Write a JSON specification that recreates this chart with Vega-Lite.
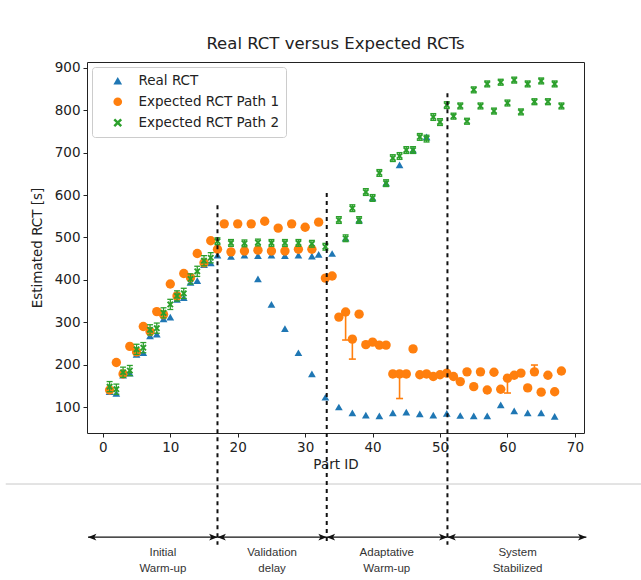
{
  "$schema": "https://vega.github.io/schema/vega-lite/v6.json",
  "width": 497,
  "height": 371,
  "autosize": {"type": "none"},
  "padding": {"left": 87, "top": 62, "right": 57, "bottom": 147},
  "background": "white",
  "config": {
    "font": "DejaVu Sans",
    "view": {"stroke": "#222222", "strokeWidth": 1},
    "legend": {
      "orient": "top-left",
      "offset": 5,
      "title": null,
      "fillColor": "rgba(255,255,255,0.85)",
      "strokeColor": "#cccccc",
      "cornerRadius": 3,
      "padding": 7,
      "labelFont": "DejaVu Sans",
      "labelFontSize": 13.5,
      "labelColor": "#222222",
      "symbolSize": 75,
      "symbolOffset": 12,
      "labelOffset": 14,
      "rowPadding": 6,
      "symbolStrokeWidth": 0
    }
  },
  "title": {
    "text": "Real RCT versus Expected RCTs",
    "font": "DejaVu Sans",
    "fontSize": 16.5,
    "fontWeight": "normal",
    "color": "#222222",
    "offset": 8
  },
  "datasets": {
    "rct": [
      {"part": 1, "series": "Real RCT", "rct": 136},
      {"part": 2, "series": "Real RCT", "rct": 132},
      {"part": 3, "series": "Real RCT", "rct": 175},
      {"part": 4, "series": "Real RCT", "rct": 180},
      {"part": 5, "series": "Real RCT", "rct": 224},
      {"part": 6, "series": "Real RCT", "rct": 228},
      {"part": 7, "series": "Real RCT", "rct": 268},
      {"part": 8, "series": "Real RCT", "rct": 272},
      {"part": 9, "series": "Real RCT", "rct": 308},
      {"part": 10, "series": "Real RCT", "rct": 312},
      {"part": 11, "series": "Real RCT", "rct": 354},
      {"part": 12, "series": "Real RCT", "rct": 358},
      {"part": 13, "series": "Real RCT", "rct": 394},
      {"part": 14, "series": "Real RCT", "rct": 398},
      {"part": 15, "series": "Real RCT", "rct": 436},
      {"part": 16, "series": "Real RCT", "rct": 440},
      {"part": 17, "series": "Real RCT", "rct": 458},
      {"part": 19, "series": "Real RCT", "rct": 455},
      {"part": 21, "series": "Real RCT", "rct": 458},
      {"part": 23, "series": "Real RCT", "rct": 457},
      {"part": 25, "series": "Real RCT", "rct": 458},
      {"part": 27, "series": "Real RCT", "rct": 457},
      {"part": 29, "series": "Real RCT", "rct": 458},
      {"part": 31, "series": "Real RCT", "rct": 456},
      {"part": 32, "series": "Real RCT", "rct": 460},
      {"part": 34, "series": "Real RCT", "rct": 462},
      {"part": 23, "series": "Real RCT", "rct": 402},
      {"part": 25, "series": "Real RCT", "rct": 342},
      {"part": 27, "series": "Real RCT", "rct": 285},
      {"part": 29, "series": "Real RCT", "rct": 228},
      {"part": 31, "series": "Real RCT", "rct": 178},
      {"part": 33, "series": "Real RCT", "rct": 123},
      {"part": 35, "series": "Real RCT", "rct": 100},
      {"part": 37, "series": "Real RCT", "rct": 86},
      {"part": 39, "series": "Real RCT", "rct": 81},
      {"part": 41, "series": "Real RCT", "rct": 79},
      {"part": 43, "series": "Real RCT", "rct": 86},
      {"part": 45, "series": "Real RCT", "rct": 88},
      {"part": 47, "series": "Real RCT", "rct": 84},
      {"part": 49, "series": "Real RCT", "rct": 81},
      {"part": 51, "series": "Real RCT", "rct": 85},
      {"part": 36, "series": "Real RCT", "rct": 498},
      {"part": 38, "series": "Real RCT", "rct": 541},
      {"part": 40, "series": "Real RCT", "rct": 593},
      {"part": 42, "series": "Real RCT", "rct": 628},
      {"part": 44, "series": "Real RCT", "rct": 671},
      {"part": 46, "series": "Real RCT", "rct": 706},
      {"part": 48, "series": "Real RCT", "rct": 737},
      {"part": 53, "series": "Real RCT", "rct": 80},
      {"part": 55, "series": "Real RCT", "rct": 79},
      {"part": 57, "series": "Real RCT", "rct": 79},
      {"part": 59, "series": "Real RCT", "rct": 105},
      {"part": 61, "series": "Real RCT", "rct": 91},
      {"part": 63, "series": "Real RCT", "rct": 86},
      {"part": 65, "series": "Real RCT", "rct": 86},
      {"part": 67, "series": "Real RCT", "rct": 78},

      {"part": 1, "series": "Expected RCT Path 1", "rct": 140},
      {"part": 2, "series": "Expected RCT Path 1", "rct": 205},
      {"part": 3, "series": "Expected RCT Path 1", "rct": 178},
      {"part": 4, "series": "Expected RCT Path 1", "rct": 243},
      {"part": 5, "series": "Expected RCT Path 1", "rct": 230},
      {"part": 6, "series": "Expected RCT Path 1", "rct": 290},
      {"part": 7, "series": "Expected RCT Path 1", "rct": 278},
      {"part": 8, "series": "Expected RCT Path 1", "rct": 325},
      {"part": 9, "series": "Expected RCT Path 1", "rct": 318},
      {"part": 10, "series": "Expected RCT Path 1", "rct": 390},
      {"part": 11, "series": "Expected RCT Path 1", "rct": 362},
      {"part": 12, "series": "Expected RCT Path 1", "rct": 415},
      {"part": 13, "series": "Expected RCT Path 1", "rct": 405},
      {"part": 14, "series": "Expected RCT Path 1", "rct": 462},
      {"part": 15, "series": "Expected RCT Path 1", "rct": 440},
      {"part": 16, "series": "Expected RCT Path 1", "rct": 492},
      {"part": 17, "series": "Expected RCT Path 1", "rct": 472},
      {"part": 18, "series": "Expected RCT Path 1", "rct": 532},
      {"part": 19, "series": "Expected RCT Path 1", "rct": 466},
      {"part": 20, "series": "Expected RCT Path 1", "rct": 532},
      {"part": 21, "series": "Expected RCT Path 1", "rct": 468},
      {"part": 22, "series": "Expected RCT Path 1", "rct": 532},
      {"part": 23, "series": "Expected RCT Path 1", "rct": 470},
      {"part": 24, "series": "Expected RCT Path 1", "rct": 538},
      {"part": 25, "series": "Expected RCT Path 1", "rct": 468},
      {"part": 26, "series": "Expected RCT Path 1", "rct": 522},
      {"part": 27, "series": "Expected RCT Path 1", "rct": 468},
      {"part": 28, "series": "Expected RCT Path 1", "rct": 532},
      {"part": 29, "series": "Expected RCT Path 1", "rct": 472},
      {"part": 30, "series": "Expected RCT Path 1", "rct": 524},
      {"part": 31, "series": "Expected RCT Path 1", "rct": 472},
      {"part": 32, "series": "Expected RCT Path 1", "rct": 536},
      {"part": 33, "series": "Expected RCT Path 1", "rct": 404},
      {"part": 34, "series": "Expected RCT Path 1", "rct": 409},
      {"part": 35, "series": "Expected RCT Path 1", "rct": 312},
      {"part": 36, "series": "Expected RCT Path 1", "rct": 324, "lo": 258, "hi": 324},
      {"part": 37, "series": "Expected RCT Path 1", "rct": 260, "lo": 213, "hi": 260},
      {"part": 38, "series": "Expected RCT Path 1", "rct": 319},
      {"part": 39, "series": "Expected RCT Path 1", "rct": 247},
      {"part": 40, "series": "Expected RCT Path 1", "rct": 253},
      {"part": 41, "series": "Expected RCT Path 1", "rct": 246},
      {"part": 42, "series": "Expected RCT Path 1", "rct": 246},
      {"part": 43, "series": "Expected RCT Path 1", "rct": 178},
      {"part": 44, "series": "Expected RCT Path 1", "rct": 178, "lo": 120, "hi": 178},
      {"part": 45, "series": "Expected RCT Path 1", "rct": 178},
      {"part": 46, "series": "Expected RCT Path 1", "rct": 237},
      {"part": 47, "series": "Expected RCT Path 1", "rct": 176},
      {"part": 48, "series": "Expected RCT Path 1", "rct": 178},
      {"part": 49, "series": "Expected RCT Path 1", "rct": 172},
      {"part": 50, "series": "Expected RCT Path 1", "rct": 176},
      {"part": 51, "series": "Expected RCT Path 1", "rct": 180},
      {"part": 52, "series": "Expected RCT Path 1", "rct": 172},
      {"part": 53, "series": "Expected RCT Path 1", "rct": 160},
      {"part": 54, "series": "Expected RCT Path 1", "rct": 183},
      {"part": 55, "series": "Expected RCT Path 1", "rct": 148},
      {"part": 56, "series": "Expected RCT Path 1", "rct": 183},
      {"part": 57, "series": "Expected RCT Path 1", "rct": 140},
      {"part": 58, "series": "Expected RCT Path 1", "rct": 182},
      {"part": 59, "series": "Expected RCT Path 1", "rct": 142},
      {"part": 60, "series": "Expected RCT Path 1", "rct": 168, "lo": 133, "hi": 168},
      {"part": 61, "series": "Expected RCT Path 1", "rct": 175},
      {"part": 62, "series": "Expected RCT Path 1", "rct": 180},
      {"part": 63, "series": "Expected RCT Path 1", "rct": 145},
      {"part": 64, "series": "Expected RCT Path 1", "rct": 183, "lo": 183, "hi": 199},
      {"part": 65, "series": "Expected RCT Path 1", "rct": 135},
      {"part": 66, "series": "Expected RCT Path 1", "rct": 175},
      {"part": 67, "series": "Expected RCT Path 1", "rct": 136},
      {"part": 68, "series": "Expected RCT Path 1", "rct": 185},

      {"part": 1, "series": "Expected RCT Path 2", "rct": 148, "lo": 136, "hi": 160},
      {"part": 2, "series": "Expected RCT Path 2", "rct": 142, "lo": 130, "hi": 154},
      {"part": 3, "series": "Expected RCT Path 2", "rct": 182, "lo": 170, "hi": 194},
      {"part": 4, "series": "Expected RCT Path 2", "rct": 186, "lo": 174, "hi": 198},
      {"part": 5, "series": "Expected RCT Path 2", "rct": 236, "lo": 224, "hi": 248},
      {"part": 6, "series": "Expected RCT Path 2", "rct": 240, "lo": 228, "hi": 252},
      {"part": 7, "series": "Expected RCT Path 2", "rct": 282, "lo": 270, "hi": 294},
      {"part": 8, "series": "Expected RCT Path 2", "rct": 286, "lo": 274, "hi": 298},
      {"part": 9, "series": "Expected RCT Path 2", "rct": 322, "lo": 310, "hi": 334},
      {"part": 10, "series": "Expected RCT Path 2", "rct": 342, "lo": 330, "hi": 354},
      {"part": 11, "series": "Expected RCT Path 2", "rct": 362, "lo": 350, "hi": 374},
      {"part": 12, "series": "Expected RCT Path 2", "rct": 368, "lo": 356, "hi": 380},
      {"part": 13, "series": "Expected RCT Path 2", "rct": 402, "lo": 390, "hi": 414},
      {"part": 14, "series": "Expected RCT Path 2", "rct": 420, "lo": 408, "hi": 432},
      {"part": 15, "series": "Expected RCT Path 2", "rct": 445, "lo": 433, "hi": 457},
      {"part": 16, "series": "Expected RCT Path 2", "rct": 452, "lo": 440, "hi": 464},
      {"part": 17, "series": "Expected RCT Path 2", "rct": 491, "lo": 483, "hi": 499},
      {"part": 19, "series": "Expected RCT Path 2", "rct": 487, "lo": 479, "hi": 495},
      {"part": 21, "series": "Expected RCT Path 2", "rct": 486, "lo": 478, "hi": 494},
      {"part": 23, "series": "Expected RCT Path 2", "rct": 488, "lo": 480, "hi": 496},
      {"part": 25, "series": "Expected RCT Path 2", "rct": 487, "lo": 479, "hi": 495},
      {"part": 27, "series": "Expected RCT Path 2", "rct": 487, "lo": 479, "hi": 495},
      {"part": 29, "series": "Expected RCT Path 2", "rct": 487, "lo": 479, "hi": 495},
      {"part": 31, "series": "Expected RCT Path 2", "rct": 485, "lo": 477, "hi": 493},
      {"part": 33, "series": "Expected RCT Path 2", "rct": 478, "lo": 470, "hi": 486},
      {"part": 35, "series": "Expected RCT Path 2", "rct": 541, "lo": 533, "hi": 549},
      {"part": 36, "series": "Expected RCT Path 2", "rct": 498, "lo": 490, "hi": 506},
      {"part": 37, "series": "Expected RCT Path 2", "rct": 569, "lo": 561, "hi": 577},
      {"part": 38, "series": "Expected RCT Path 2", "rct": 541, "lo": 533, "hi": 549},
      {"part": 39, "series": "Expected RCT Path 2", "rct": 607, "lo": 599, "hi": 615},
      {"part": 40, "series": "Expected RCT Path 2", "rct": 593, "lo": 585, "hi": 601},
      {"part": 41, "series": "Expected RCT Path 2", "rct": 652, "lo": 644, "hi": 660},
      {"part": 42, "series": "Expected RCT Path 2", "rct": 628, "lo": 620, "hi": 636},
      {"part": 43, "series": "Expected RCT Path 2", "rct": 687, "lo": 679, "hi": 695},
      {"part": 44, "series": "Expected RCT Path 2", "rct": 692, "lo": 684, "hi": 700},
      {"part": 45, "series": "Expected RCT Path 2", "rct": 706, "lo": 698, "hi": 714},
      {"part": 46, "series": "Expected RCT Path 2", "rct": 706, "lo": 698, "hi": 714},
      {"part": 47, "series": "Expected RCT Path 2", "rct": 737, "lo": 729, "hi": 745},
      {"part": 48, "series": "Expected RCT Path 2", "rct": 733, "lo": 725, "hi": 741},
      {"part": 49, "series": "Expected RCT Path 2", "rct": 784, "lo": 776, "hi": 792},
      {"part": 50, "series": "Expected RCT Path 2", "rct": 772, "lo": 764, "hi": 780},
      {"part": 51, "series": "Expected RCT Path 2", "rct": 812, "lo": 804, "hi": 820},
      {"part": 52, "series": "Expected RCT Path 2", "rct": 786, "lo": 779, "hi": 793},
      {"part": 53, "series": "Expected RCT Path 2", "rct": 810, "lo": 803, "hi": 817},
      {"part": 54, "series": "Expected RCT Path 2", "rct": 774, "lo": 767, "hi": 781},
      {"part": 55, "series": "Expected RCT Path 2", "rct": 848, "lo": 841, "hi": 855},
      {"part": 56, "series": "Expected RCT Path 2", "rct": 810, "lo": 803, "hi": 817},
      {"part": 57, "series": "Expected RCT Path 2", "rct": 862, "lo": 855, "hi": 869},
      {"part": 58, "series": "Expected RCT Path 2", "rct": 798, "lo": 791, "hi": 805},
      {"part": 59, "series": "Expected RCT Path 2", "rct": 866, "lo": 859, "hi": 873},
      {"part": 60, "series": "Expected RCT Path 2", "rct": 817, "lo": 810, "hi": 824},
      {"part": 61, "series": "Expected RCT Path 2", "rct": 871, "lo": 864, "hi": 878},
      {"part": 62, "series": "Expected RCT Path 2", "rct": 796, "lo": 789, "hi": 803},
      {"part": 63, "series": "Expected RCT Path 2", "rct": 862, "lo": 855, "hi": 869},
      {"part": 64, "series": "Expected RCT Path 2", "rct": 820, "lo": 813, "hi": 827},
      {"part": 65, "series": "Expected RCT Path 2", "rct": 869, "lo": 862, "hi": 876},
      {"part": 66, "series": "Expected RCT Path 2", "rct": 820, "lo": 813, "hi": 827},
      {"part": 67, "series": "Expected RCT Path 2", "rct": 862, "lo": 855, "hi": 869},
      {"part": 68, "series": "Expected RCT Path 2", "rct": 810, "lo": 803, "hi": 817}
    ],
    "boundaries": [
      {"part": 17, "top": 576},
      {"part": 33.2, "top": 605},
      {"part": 51.1, "top": 840}
    ],
    "phases": [
      {"from": -2.2, "to": 17, "mid": 8.9, "phase": "Initial\nWarm-up"},
      {"from": 17, "to": 33.2, "mid": 25.1, "phase": "Validation\ndelay"},
      {"from": 33.2, "to": 51.1, "mid": 42.1, "phase": "Adaptative\nWarm-up"},
      {"from": 51.1, "to": 71.7, "mid": 61.5, "phase": "System\nStabilized"}
    ],
    "frame": [
      {"left": -14.4, "right": 80.5, "bottom": -81.6}
    ]
  },
  "layer": [
    {
      "data": {"name": "frame"},
      "mark": {"type": "rule", "color": "#c8c8c8", "strokeWidth": 1, "clip": false},
      "encoding": {
        "x": {"field": "left", "type": "quantitative"},
        "x2": {"field": "right"},
        "y": {"field": "bottom", "type": "quantitative"}
      }
    },
    {
      "data": {"name": "rct"},
      "transform": [{"filter": "datum.series === 'Real RCT'"}],
      "mark": {"type": "point", "filled": true, "size": 60, "opacity": 1},
      "encoding": {
        "x": {
          "field": "part",
          "type": "quantitative",
          "scale": {"domain": [-2.35, 71.35], "nice": false, "zero": false},
          "axis": {
            "values": [0, 10, 20, 30, 40, 50, 60, 70],
            "grid": false,
            "domain": false,
            "tickColor": "#222222",
            "tickSize": 4,
            "labelFont": "DejaVu Sans",
            "labelFontSize": 13.5,
            "labelColor": "#222222",
            "labelPadding": 3,
            "title": "Part ID",
            "titleFont": "DejaVu Sans",
            "titleFontSize": 13.5,
            "titleFontWeight": "normal",
            "titleColor": "#222222",
            "titlePadding": 4
          }
        },
        "y": {
          "field": "rct",
          "type": "quantitative",
          "scale": {"domain": [38.7, 913.7], "nice": false, "zero": false},
          "axis": {
            "values": [100, 200, 300, 400, 500, 600, 700, 800, 900],
            "grid": false,
            "domain": false,
            "tickColor": "#222222",
            "tickSize": 4,
            "labelFont": "DejaVu Sans",
            "labelFontSize": 13.5,
            "labelColor": "#222222",
            "labelPadding": 3,
            "title": "Estimated RCT [s]",
            "titleFont": "DejaVu Sans",
            "titleFontSize": 13.5,
            "titleFontWeight": "normal",
            "titleColor": "#222222",
            "titlePadding": 10
          }
        },
        "color": {
          "field": "series",
          "type": "nominal",
          "scale": {
            "domain": ["Real RCT", "Expected RCT Path 1", "Expected RCT Path 2"],
            "range": ["#1f77b4", "#ff7f0e", "#2ca02c"]
          },
          "legend": {"title": null}
        },
        "shape": {
          "field": "series",
          "type": "nominal",
          "scale": {
            "domain": ["Real RCT", "Expected RCT Path 1", "Expected RCT Path 2"],
            "range": ["triangle-up", "circle", "M-1,-0.6L-0.6,-1L0,-0.4L0.6,-1L1,-0.6L0.4,0L1,0.6L0.6,1L0,0.4L-0.6,1L-1,0.6L-0.4,0Z"]
          },
          "legend": {"title": null}
        }
      }
    },
    {
      "data": {"name": "rct"},
      "transform": [{"filter": "datum.series === 'Expected RCT Path 1' && isValid(datum.lo)"}],
      "layer": [
        {
          "mark": {"type": "rule", "color": "#ff7f0e", "strokeWidth": 1.6},
          "encoding": {
            "x": {"field": "part", "type": "quantitative"},
            "y": {"field": "lo", "type": "quantitative"},
            "y2": {"field": "hi"}
          }
        },
        {
          "mark": {"type": "tick", "orient": "horizontal", "color": "#ff7f0e", "size": 7, "thickness": 1.6, "opacity": 1},
          "encoding": {
            "x": {"field": "part", "type": "quantitative"},
            "y": {"field": "lo", "type": "quantitative"}
          }
        },
        {
          "mark": {"type": "tick", "orient": "horizontal", "color": "#ff7f0e", "size": 7, "thickness": 1.6, "opacity": 1},
          "encoding": {
            "x": {"field": "part", "type": "quantitative"},
            "y": {"field": "hi", "type": "quantitative"}
          }
        }
      ]
    },
    {
      "data": {"name": "rct"},
      "transform": [{"filter": "datum.series === 'Expected RCT Path 1'"}],
      "mark": {"type": "point", "filled": true, "size": 88, "opacity": 1},
      "encoding": {
        "x": {"field": "part", "type": "quantitative"},
        "y": {"field": "rct", "type": "quantitative"},
        "color": {"field": "series", "type": "nominal"},
        "shape": {"field": "series", "type": "nominal"}
      }
    },
    {
      "data": {"name": "rct"},
      "transform": [{"filter": "datum.series === 'Expected RCT Path 2'"}],
      "layer": [
        {
          "mark": {"type": "rule", "color": "#2ca02c", "strokeWidth": 1.3},
          "encoding": {
            "x": {"field": "part", "type": "quantitative"},
            "y": {"field": "lo", "type": "quantitative"},
            "y2": {"field": "hi"}
          }
        },
        {
          "mark": {"type": "tick", "orient": "horizontal", "color": "#2ca02c", "size": 6, "thickness": 1.3, "opacity": 1},
          "encoding": {
            "x": {"field": "part", "type": "quantitative"},
            "y": {"field": "lo", "type": "quantitative"}
          }
        },
        {
          "mark": {"type": "tick", "orient": "horizontal", "color": "#2ca02c", "size": 6, "thickness": 1.3, "opacity": 1},
          "encoding": {
            "x": {"field": "part", "type": "quantitative"},
            "y": {"field": "hi", "type": "quantitative"}
          }
        },
        {
          "mark": {"type": "point", "filled": true, "size": 45, "opacity": 1},
          "encoding": {
            "x": {"field": "part", "type": "quantitative"},
            "y": {"field": "rct", "type": "quantitative"},
            "color": {"field": "series", "type": "nominal"},
            "shape": {"field": "series", "type": "nominal"}
          }
        }
      ]
    },
    {
      "data": {"name": "boundaries"},
      "mark": {"type": "rule", "color": "#111111", "strokeWidth": 2, "strokeDash": [4, 4], "clip": false},
      "encoding": {
        "x": {"field": "part", "type": "quantitative"},
        "y": {"field": "top", "type": "quantitative"},
        "y2": {"datum": -225}
      }
    },
    {
      "mark": {"type": "rule", "color": "#a34a64", "strokeWidth": 2.5},
      "encoding": {
        "x": {"datum": 22.8, "type": "quantitative"},
        "y": {"datum": 442, "type": "quantitative"},
        "y2": {"datum": 612}
      }
    },
    {
      "mark": {"type": "point", "filled": true, "color": "#a34a64", "opacity": 1, "size": 130, "shape": "M0,0L-1,2.2L1,2.2Z"},
      "encoding": {
        "x": {"datum": 22.8, "type": "quantitative"},
        "y": {"datum": 622, "type": "quantitative"}
      }
    },
    {
      "mark": {"type": "text", "text": "System Change", "color": "#e8475f", "font": "DejaVu Sans", "fontSize": 10.5, "align": "center", "baseline": "middle"},
      "encoding": {
        "x": {"datum": 22.8, "type": "quantitative"},
        "y": {"datum": 659, "type": "quantitative"}
      }
    },
    {
      "data": {"name": "phases"},
      "layer": [
        {
          "mark": {"type": "rule", "color": "#111111", "strokeWidth": 1.3, "clip": false},
          "encoding": {
            "x": {"field": "from", "type": "quantitative"},
            "x2": {"field": "to"},
            "y": {"datum": -207, "type": "quantitative"}
          }
        },
        {
          "mark": {"type": "point", "filled": true, "color": "#111111", "opacity": 1, "size": 70, "shape": "M0,0L2,-0.8L1.5,0L2,0.8Z", "clip": false},
          "encoding": {
            "x": {"field": "from", "type": "quantitative"},
            "y": {"datum": -207, "type": "quantitative"}
          }
        },
        {
          "mark": {"type": "point", "filled": true, "color": "#111111", "opacity": 1, "size": 70, "shape": "M0,0L-2,-0.8L-1.5,0L-2,0.8Z", "clip": false},
          "encoding": {
            "x": {"field": "to", "type": "quantitative"},
            "y": {"datum": -207, "type": "quantitative"}
          }
        },
        {
          "mark": {"type": "text", "font": "Liberation Sans", "fontSize": 11.5, "color": "#333333", "align": "center", "baseline": "top", "lineBreak": "\n", "lineHeight": 16, "clip": false},
          "encoding": {
            "x": {"field": "mid", "type": "quantitative"},
            "y": {"datum": -231, "type": "quantitative"},
            "text": {"field": "phase"}
          }
        }
      ]
    }
  ]
}
